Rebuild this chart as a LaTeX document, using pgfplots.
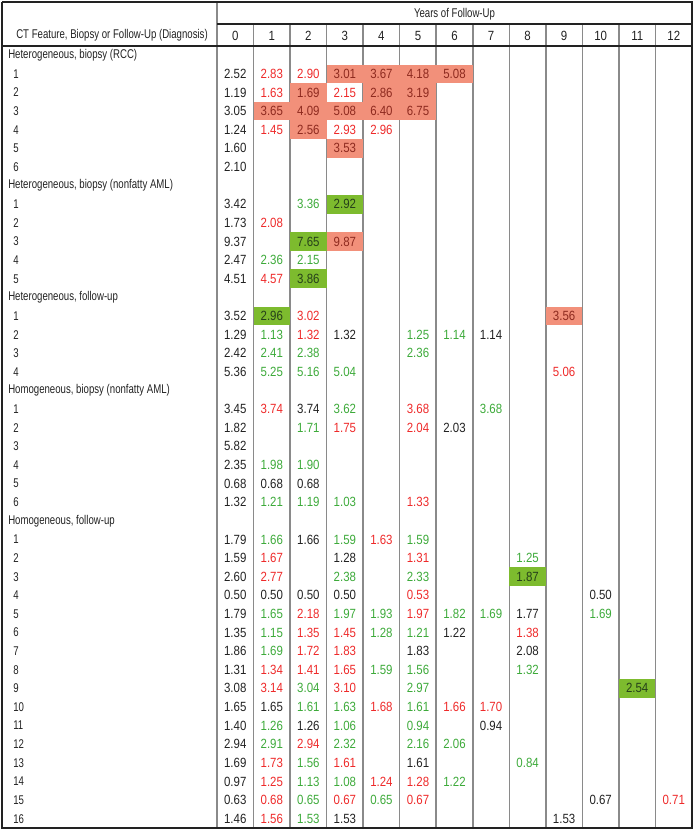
\documentclass[border=0pt]{standalone}
\usepackage{fontspec}
\setmainfont{Liberation Sans}[FakeStretch=0.76]
\newfontfamily\numfam{Liberation Sans}[FakeStretch=0.86]
\usepackage{pgfplots}
\usepackage{pgfplotstable}
\pgfplotsset{compat=1.18}
\definecolor{cred}{HTML}{EE2A2A}
\definecolor{cgreen}{HTML}{3DAA3A}
\definecolor{cblack}{HTML}{222222}
\definecolor{salmon}{HTML}{F2907A}
\definecolor{salmontxt}{HTML}{8E2A1F}
\definecolor{gfill}{HTML}{7DBB2E}
\definecolor{gtxt}{HTML}{26401A}
\definecolor{lgray}{HTML}{8A8A8A}
\newcommand\tf{\fontsize{9.5}{11}\selectfont}
\newcommand\nf{\numfam\fontsize{10}{11}\selectfont}
\pgfdeclareplotmark{cellbox}{\pgfpathrectangle{\pgfpoint{-13.7pt}{-6.98pt}}{\pgfpoint{27.4pt}{13.96pt}}\pgfusepathqfill}

\pgfplotstableread{
r c v
1 0 2.52
2 0 1.19
3 0 3.05
4 0 1.24
5 0 1.60
6 0 2.10
8 0 3.42
9 0 1.73
10 0 9.37
11 0 2.47
12 0 4.51
14 0 3.52
15 0 1.29
15 3 1.32
15 7 1.14
16 0 2.42
17 0 5.36
19 0 3.45
19 2 3.74
20 0 1.82
20 6 2.03
21 0 5.82
22 0 2.35
23 0 0.68
23 1 0.68
23 2 0.68
24 0 1.32
26 0 1.79
26 2 1.66
27 0 1.59
27 3 1.28
28 0 2.60
29 0 0.50
29 1 0.50
29 2 0.50
29 3 0.50
29 10 0.50
30 0 1.79
30 8 1.77
31 0 1.35
31 6 1.22
32 0 1.86
32 5 1.83
32 8 2.08
33 0 1.31
34 0 3.08
35 0 1.65
35 1 1.65
36 0 1.40
36 2 1.26
36 7 0.94
37 0 2.94
38 0 1.69
38 5 1.61
39 0 0.97
40 0 0.63
40 10 0.67
41 0 1.46
41 3 1.53
41 9 1.53
}\tblK

\pgfplotstableread{
r c v
1 1 2.83
1 2 2.90
2 1 1.63
2 3 2.15
4 1 1.45
4 3 2.93
4 4 2.96
9 1 2.08
12 1 4.57
14 2 3.02
15 2 1.32
17 9 5.06
19 1 3.74
19 5 3.68
20 3 1.75
20 5 2.04
24 5 1.33
26 4 1.63
27 1 1.67
27 5 1.31
28 1 2.77
29 5 0.53
30 2 2.18
30 5 1.97
31 2 1.35
31 3 1.45
31 8 1.38
32 2 1.72
32 3 1.83
33 1 1.34
33 2 1.41
33 3 1.65
34 1 3.14
34 3 3.10
35 4 1.68
35 6 1.66
35 7 1.70
37 2 2.94
38 1 1.73
38 3 1.61
39 1 1.25
39 4 1.24
39 5 1.28
40 1 0.68
40 3 0.67
40 5 0.67
40 12 0.71
41 1 1.56
}\tblR

\pgfplotstableread{
r c v
8 2 3.36
11 1 2.36
11 2 2.15
15 1 1.13
15 5 1.25
15 6 1.14
16 1 2.41
16 2 2.38
16 5 2.36
17 1 5.25
17 2 5.16
17 3 5.04
19 3 3.62
19 7 3.68
20 2 1.71
22 1 1.98
22 2 1.90
24 1 1.21
24 2 1.19
24 3 1.03
26 1 1.66
26 3 1.59
26 5 1.59
27 8 1.25
28 3 2.38
28 5 2.33
30 1 1.65
30 3 1.97
30 4 1.93
30 6 1.82
30 7 1.69
30 10 1.69
31 1 1.15
31 4 1.28
31 5 1.21
32 1 1.69
33 4 1.59
33 5 1.56
33 8 1.32
34 2 3.04
34 5 2.97
35 2 1.61
35 3 1.63
35 5 1.61
36 1 1.26
36 3 1.06
36 5 0.94
37 1 2.91
37 3 2.32
37 5 2.16
37 6 2.06
38 2 1.56
38 8 0.84
39 2 1.13
39 3 1.08
39 6 1.22
40 2 0.65
40 4 0.65
41 2 1.53
}\tblG

\pgfplotstableread{
r c v
1 3 3.01
1 4 3.67
1 5 4.18
1 6 5.08
2 2 1.69
2 4 2.86
2 5 3.19
3 1 3.65
3 2 4.09
3 3 5.08
3 4 6.40
3 5 6.75
4 2 2.56
5 3 3.53
10 3 9.87
14 9 3.56
}\tblS

\pgfplotstableread{
r c v
8 3 2.92
10 2 7.65
12 2 3.86
14 1 2.96
28 8 1.87
34 11 2.54
}\tblGG

\pgfplotstableread{
r x v
0 8 {Heterogeneous, biopsy (RCC)}
1 13 1
2 13 2
3 13 3
4 13 4
5 13 5
6 13 6
7 8 {Heterogeneous, biopsy (nonfatty AML)}
8 13 1
9 13 2
10 13 3
11 13 4
12 13 5
13 8 {Heterogeneous, follow-up}
14 13 1
15 13 2
16 13 3
17 13 4
18 8 {Homogeneous, biopsy (nonfatty AML)}
19 13 1
20 13 2
21 13 3
22 13 4
23 13 5
24 13 6
25 8 {Homogeneous, follow-up}
26 13 1
27 13 2
28 13 3
29 13 4
30 13 5
31 13 6
32 13 7
33 13 8
34 13 9
35 13 10
36 13 11
37 13 12
38 13 13
39 13 14
40 13 15
41 13 16
}\tblL

\pgfplotsset{
  cellnum/.style={only marks, mark=none, point meta=explicit symbolic,
    nodes near coords, nodes near coords align=center,
    every node near coord/.append style={font=\nf, text=#1, inner sep=0pt, anchor=center}},
  cellfill/.style={only marks, mark=cellbox, color=#1, mark options={fill=#1, draw=none}},
  gridv/.style={lgray, line width=1.1pt, mark=none},
  gridk/.style={cblack, line width=1.1pt, mark=none},
}
\newcommand\xc{217+36.54*(\thisrow{c}+0.5)}
\newcommand\yr{46+18.62*(\thisrow{r}+0.5)}

\begin{document}
\begin{tikzpicture}
\begin{axis}[
  width=520.5pt, height=623.25pt, scale only axis,
  xmin=0, xmax=694, ymin=0, ymax=831, y dir=reverse,
  hide axis, clip=false, unbounded coords=jump,
]
\addplot[draw=none, mark=none, forget plot] coordinates {(0,0) (694,831)};
% coloured cells
\addplot[cellfill=salmon] table[x expr=\xc, y expr=\yr]{\tblS};
\addplot[cellfill=gfill] table[x expr=\xc, y expr=\yr]{\tblGG};
% grid: column separators
\addplot[gridv] coordinates {
(253.5,24) (253.5,828) (253.5,nan)
(290.1,24) (290.1,828) (290.1,nan)
(326.6,24) (326.6,828) (326.6,nan)
(363.2,24) (363.2,828) (363.2,nan)
(399.7,24) (399.7,828) (399.7,nan)
(436.2,24) (436.2,828) (436.2,nan)
(472.8,24) (472.8,828) (472.8,nan)
(509.3,24) (509.3,828) (509.3,nan)
(545.9,24) (545.9,828) (545.9,nan)
(582.4,24) (582.4,828) (582.4,nan)
(618.9,24) (618.9,828) (618.9,nan)
(655.5,24) (655.5,828)
};
\addplot[gridv] coordinates {(217,2) (217,828)};
\addplot[gridk] coordinates {(217,24) (692,24)};
\addplot[gridk] coordinates {(2,46) (692,46)};
\addplot[cblack, line width=1.4pt, mark=none] coordinates {(2,2) (692,2) (692,828) (2,828) (2,2)};
% numbers
\addplot[cellnum=cblack] table[x expr=\xc, y expr=\yr, meta=v]{\tblK};
\addplot[cellnum=cred] table[x expr=\xc, y expr=\yr, meta=v]{\tblR};
\addplot[cellnum=cgreen] table[x expr=\xc, y expr=\yr, meta=v]{\tblG};
\addplot[cellnum=salmontxt] table[x expr=\xc, y expr=\yr, meta=v]{\tblS};
\addplot[cellnum=gtxt] table[x expr=\xc, y expr=\yr, meta=v]{\tblGG};
% row labels
\addplot[only marks, mark=none, point meta=explicit symbolic, nodes near coords,
  every node near coord/.append style={font=\tf, text=cblack, inner sep=0pt, anchor=west}]
  table[x=x, y expr=\yr, meta=v]{\tblL};
% headers
\node[font=\tf, text=cblack, anchor=center, inner sep=0pt] at (axis cs:454.5,14) {Years of Follow-Up};
\node[font=\tf, text=cblack, anchor=west, inner sep=0pt] at (axis cs:16,35.5) {CT Feature, Biopsy or Follow-Up (Diagnosis)};
\pgfplotsinvokeforeach{0,...,12}{
  \node[font=\nf, text=cblack, anchor=center, inner sep=0pt] at (axis cs:{217+36.54*(#1+0.5)},35.5) {#1};
}
\end{axis}
\end{tikzpicture}
\end{document}
